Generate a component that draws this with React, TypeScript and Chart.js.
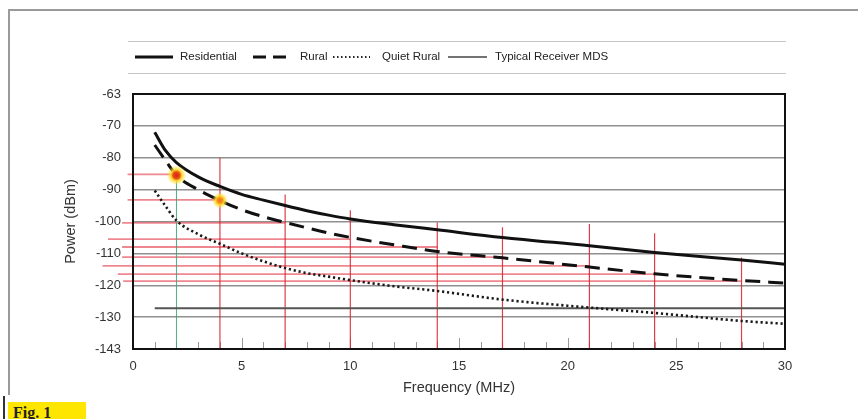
import React, { useEffect, useRef } from "react";
import { Chart, registerables } from "chart.js";

Chart.register(...registerables);

// ---- data ----
const frequencies = [1, 1.5, 2, 3, 4, 5, 6, 7, 8, 9, 10, 12, 14, 17, 21, 24, 28, 30];
const residential = [-72, -77.8, -81.5, -86, -89, -91.5, -93.3, -95, -96.6, -98, -99.2, -101, -102.6, -105, -107.6, -109.7, -112.1, -113.4];
const rural = [-76, -80.9, -85.5, -90, -93.4, -96.3, -98.5, -100.3, -102, -103.6, -105, -107.3, -109.4, -111.4, -114.3, -116.4, -118.5, -119.3];
const quietRural = [-90.3, -95.2, -99.7, -104, -107, -110, -112.5, -114.6, -116.2, -117.3, -118.4, -120.3, -121.8, -124.5, -127, -128.7, -131.2, -132.1];
const mdsFreq = [1, 30];
const mdsPower = [-127.2, -127.2];

const xTicks = [0, 5, 10, 15, 20, 25, 30];
const yTicks = [-140, -130, -120, -110, -100, -90, -80, -70, -60];
const yTickLabels = ["-143", "-130", "-120", "-110", "-100", "-90", "-80", "-70", "-63"];

// red read-off annotations
const markerFreqs = [4, 7, 10, 14, 17, 21, 24, 28];
const markerTops = [-80, -91.5, -96.5, -100.3, -101.8, -100.8, -103.7, -111.3];
const readoutLevels = [-85.2, -93.2, -100.4, -105.5, -108, -111.2, -113.9, -116.5, -118.7];
const readoutStarts = [-0.25, -0.25, -0.5, -1.15, -0.5, -0.5, -1.4, -0.7, -0.45];
const readoutEnds = [2, 4, 7, 10, 14, 17, 21, 24, 28];
const highlightFreqs = [2, 4];
const highlightPower = [-85.5, -93.4];
const highlightSizes = [10, 8];

const legendItems = ["Residential", "Rural", "Quiet Rural", "Typical Receiver MDS"];

const FONT = "'Liberation Sans', Arial, Helvetica, sans-serif";

const toPoints = (xs: number[], ys: number[]) => xs.map((x, i) => ({ x, y: ys[i] }));

const annotPlugin = {
  id: "annot",
  beforeDatasetsDraw(chart: any) {
    const { ctx, chartArea, scales } = chart;
    const x = scales.x;
    const y = scales.y;
    ctx.save();
    // minor inside ticks
    ctx.strokeStyle = "#9a9a9a";
    ctx.lineWidth = 1;
    for (let f = 1; f < 30; f++) {
      const px = Math.round(x.getPixelForValue(f)) + 0.5;
      const len = f % 5 === 0 ? 11 : 7;
      ctx.beginPath();
      ctx.moveTo(px, chartArea.bottom);
      ctx.lineTo(px, chartArea.bottom - len);
      ctx.stroke();
    }
    // horizontal red read-off lines
    ctx.strokeStyle = "rgba(232,95,105,0.75)";
    ctx.lineWidth = 1.8;
    readoutLevels.forEach((v, i) => {
      const py = y.getPixelForValue(v);
      ctx.beginPath();
      ctx.moveTo(x.getPixelForValue(readoutStarts[i]), py);
      ctx.lineTo(x.getPixelForValue(readoutEnds[i]), py);
      ctx.stroke();
    });
    // vertical red lines
    ctx.strokeStyle = "rgba(215,30,45,0.85)";
    ctx.lineWidth = 1.2;
    markerFreqs.forEach((f, i) => {
      const px = x.getPixelForValue(f);
      ctx.beginPath();
      ctx.moveTo(px, y.getPixelForValue(markerTops[i]));
      ctx.lineTo(px, chartArea.bottom);
      ctx.stroke();
    });
    // green line
    ctx.strokeStyle = "rgba(60,165,115,0.9)";
    ctx.lineWidth = 1;
    const gx = x.getPixelForValue(highlightFreqs[0]);
    ctx.beginPath();
    ctx.moveTo(gx, y.getPixelForValue(highlightPower[0]));
    ctx.lineTo(gx, chartArea.bottom);
    ctx.stroke();
    ctx.restore();
  },
  afterDatasetsDraw(chart: any) {
    const { ctx, chartArea, scales } = chart;
    const x = scales.x;
    const y = scales.y;
    ctx.save();
    highlightFreqs.forEach((f, i) => {
      const px = x.getPixelForValue(f);
      const py = y.getPixelForValue(highlightPower[i]);
      const r = highlightSizes[i];
      const g = ctx.createRadialGradient(px, py, 0, px, py, r);
      g.addColorStop(0, i === 0 ? "rgba(215,35,20,1)" : "rgba(240,110,20,1)");
      g.addColorStop(0.35, i === 0 ? "rgba(230,80,20,1)" : "rgba(245,150,30,1)");
      g.addColorStop(0.55, "rgba(255,215,40,0.95)");
      g.addColorStop(1, "rgba(255,235,80,0)");
      ctx.fillStyle = g;
      ctx.beginPath();
      ctx.arc(px, py, r, 0, Math.PI * 2);
      ctx.fill();
    });
    // plot frame
    ctx.strokeStyle = "#111";
    ctx.lineWidth = 2;
    ctx.strokeRect(chartArea.left, chartArea.top, chartArea.right - chartArea.left, chartArea.bottom - chartArea.top);
    ctx.restore();
  },
  afterDraw(chart: any) {
    const { ctx } = chart;
    ctx.save();
    // legend frame lines
    ctx.strokeStyle = "#c4c4c4";
    ctx.lineWidth = 1;
    [41.5, 73.5].forEach((yy) => {
      ctx.beginPath();
      ctx.moveTo(128, yy);
      ctx.lineTo(786, yy);
      ctx.stroke();
    });
    const ly = 57;
    const samples = [
      { x0: 135, x1: 173, tx: 180, w: 3, dash: [] as number[], c: "#111" },
      { x0: 253, x1: 292, tx: 300, w: 3, dash: [13, 7], c: "#111" },
      { x0: 333, x1: 370, tx: 382, w: 2, dash: [1.5, 2.5], c: "#222" },
      { x0: 448, x1: 487, tx: 495, w: 1.5, dash: [] as number[], c: "#444" },
    ];
    samples.forEach((s, i) => {
      ctx.strokeStyle = s.c;
      ctx.lineWidth = s.w;
      ctx.setLineDash(s.dash);
      ctx.beginPath();
      ctx.moveTo(s.x0, ly);
      ctx.lineTo(s.x1, ly);
      ctx.stroke();
      ctx.setLineDash([]);
      ctx.fillStyle = "#222";
      ctx.font = `11.5px ${FONT}`;
      ctx.textBaseline = "middle";
      ctx.textAlign = "left";
      ctx.fillText(legendItems[i], s.tx, ly);
    });
    ctx.restore();
  },
};

export default function App() {
  const canvasRef = useRef<HTMLCanvasElement | null>(null);

  useEffect(() => {
    if (!canvasRef.current) return;
    Chart.defaults.font.family = FONT;
    const chart = new Chart(canvasRef.current, {
      type: "line",
      data: {
        datasets: [
          {
            label: legendItems[0],
            data: toPoints(frequencies, residential),
            borderColor: "#111",
            borderWidth: 3,
            pointRadius: 0,
            cubicInterpolationMode: "monotone",
          },
          {
            label: legendItems[1],
            data: toPoints(frequencies, rural),
            borderColor: "#111",
            borderWidth: 3,
            borderDash: [15, 8],
            pointRadius: 0,
            cubicInterpolationMode: "monotone",
          },
          {
            label: legendItems[2],
            data: toPoints(frequencies, quietRural),
            borderColor: "#1a1a1a",
            borderWidth: 2.6,
            borderDash: [2.2, 2.8],
            pointRadius: 0,
            cubicInterpolationMode: "monotone",
          },
          {
            label: legendItems[3],
            data: toPoints(mdsFreq, mdsPower),
            borderColor: "#555",
            borderWidth: 2,
            pointRadius: 0,
          },
        ],
      },
      options: {
        responsive: true,
        maintainAspectRatio: false,
        animation: false,
        layout: { padding: { left: 0, right: 73, top: 94, bottom: 0 } },
        plugins: { legend: { display: false }, tooltip: { enabled: false } },
        scales: {
          x: {
            type: "linear",
            min: 0,
            max: 30,
            afterBuildTicks: (s: any) => {
              s.ticks = xTicks.map((v) => ({ value: v }));
            },
            afterFit: (s: any) => {
              s.height = 70;
            },
            grid: { display: false, drawTicks: false },
            border: { display: false },
            ticks: { padding: 10, color: "#333", font: { size: 13 }, maxRotation: 0 },
            title: {
              display: true,
              text: "Frequency (MHz)",
              color: "#333",
              font: { size: 14.5 },
              padding: { top: 0, bottom: 22 },
            },
          },
          y: {
            type: "linear",
            min: -140,
            max: -60,
            afterBuildTicks: (s: any) => {
              s.ticks = yTicks.map((v) => ({ value: v }));
            },
            afterFit: (s: any) => {
              s.width = 133;
            },
            grid: {
              drawTicks: false,
              color: (c: any) =>
                c.tick && (c.tick.value === -60 || c.tick.value === -140) ? "rgba(0,0,0,0)" : "#909090",
              lineWidth: 1.5,
            },
            border: { display: false },
            ticks: {
              padding: 12,
              color: "#333",
              font: { size: 13 },
              callback: (v: any) => yTickLabels[yTicks.indexOf(Number(v))],
            },
            title: {
              display: true,
              text: "Power (dBm)",
              color: "#333",
              font: { size: 14.5 },
              padding: { top: 62, bottom: 0 },
            },
          },
        },
      },
      plugins: [annotPlugin],
    } as any);
    return () => chart.destroy();
  }, []);

  return (
    <div style={{ position: "absolute", left: 0, top: 0, width: 858, height: 419, background: "#fff", overflow: "hidden" }}>
      <div
        style={{
          position: "absolute",
          left: 8,
          top: 9,
          width: 850,
          height: 384,
          borderTop: "2px solid #9a9a9a",
          borderLeft: "2px solid #9a9a9a",
        }}
      />
      <div style={{ position: "absolute", left: 0, top: 0, width: 858, height: 419 }}>
        <canvas ref={canvasRef} />
      </div>
      <div style={{ position: "absolute", left: 3, top: 396, width: 2, height: 23, background: "#333" }} />
      <div
        style={{
          position: "absolute",
          left: 8,
          top: 402,
          width: 78,
          height: 17,
          background: "#ffe600",
          fontFamily: "'Liberation Serif', 'DejaVu Serif', serif",
          fontSize: 16,
          fontWeight: "bold",
          color: "#222",
          paddingLeft: 5,
          boxSizing: "border-box",
          lineHeight: "22px",
          overflow: "hidden",
        }}
      >
        Fig. 1
      </div>
    </div>
  );
}
